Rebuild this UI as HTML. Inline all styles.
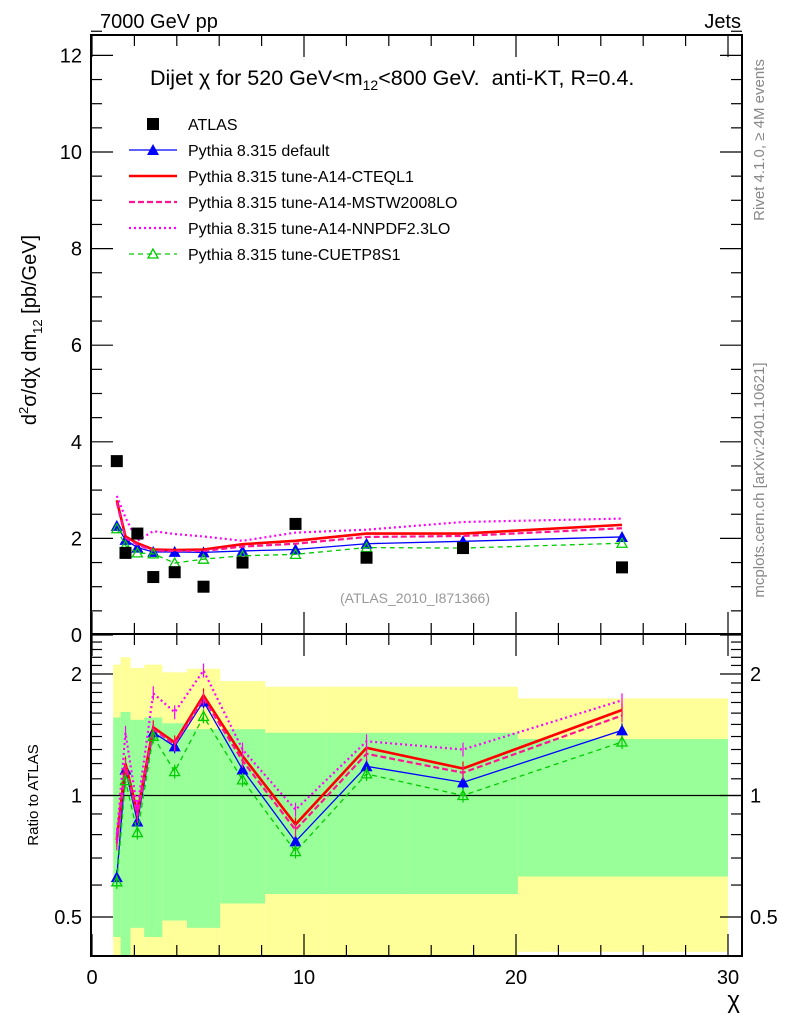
<!DOCTYPE html>
<html><head><meta charset="utf-8"><style>
body{margin:0;background:#fff}
svg{display:block;font-family:"Liberation Sans",sans-serif}
</style></head><body>
<svg id="c" width="786" height="1024" viewBox="0 0 786 1024">
<g id="bands"></g>
<g id="grid"></g>
<g id="series"></g>
<text x="100" y="28" font-size="20">7000 GeV pp</text>
<text x="741" y="28" font-size="20" text-anchor="end">Jets</text>
<text x="150" y="85" font-size="21.5" style="white-space:pre" xml:space="preserve">Dijet χ for 520 GeV&lt;m<tspan font-size="14" dy="5">12</tspan><tspan dy="-5">&lt;800 GeV.  anti-KT, R=0.4.</tspan></text>
<text x="415" y="603" font-size="14" fill="#999" text-anchor="middle">(ATLAS_2010_I871366)</text>
<text transform="translate(764,140) rotate(-90)" font-size="15" fill="#888" text-anchor="middle">Rivet 4.1.0, ≥ 4M events</text>
<text transform="translate(764,480) rotate(-90)" font-size="15" fill="#888" text-anchor="middle">mcplots.cern.ch [arXiv:2401.10621]</text>
<text transform="translate(36,330) rotate(-90)" font-size="20" text-anchor="middle">d<tspan font-size="13" dy="-8">2</tspan><tspan dy="8">σ/dχ dm</tspan><tspan font-size="13" dy="6">12</tspan><tspan dy="-6"> [pb/GeV]</tspan></text>
<text transform="translate(38,795) rotate(-90)" font-size="15" text-anchor="middle">Ratio to ATLAS</text>
<text x="740" y="1008" font-size="24" text-anchor="end">χ</text>
<g id="legend"></g>
</svg>
<script>
const edges=[1,1.35,1.82,2.46,3.32,4.48,6.05,8.17,11.02,14.88,20.09,30];
const chi=[1.17,1.58,2.14,2.89,3.9,5.26,7.1,9.6,12.95,17.5,25];
const atlas=[3.6,1.7,2.1,1.2,1.3,1.0,1.5,2.3,1.6,1.8,1.4];
const pyDefault=[2.26,1.97,1.81,1.72,1.72,1.71,1.74,1.77,1.89,1.94,2.03];
const pyCTEQ=[2.79,2.04,1.90,1.77,1.76,1.77,1.88,1.95,2.10,2.10,2.28];
const pyMSTW=[2.74,2.01,1.87,1.75,1.74,1.74,1.83,1.89,2.03,2.05,2.21];
const pyNNPDF=[2.88,2.43,1.95,2.15,2.09,2.04,1.95,2.12,2.18,2.34,2.41];
const pyCUETP=[2.20,1.85,1.70,1.68,1.49,1.57,1.64,1.67,1.81,1.80,1.90];
const greenHi=[1.56,1.61,1.54,1.56,1.51,1.46,1.46,1.43,1.43,1.43,1.38];
const greenLo=[0.446,0.3,0.47,0.446,0.49,0.47,0.54,0.57,0.57,0.57,0.63];
const yellowHi=[2.11,2.2,2.07,2.11,2.02,2.06,1.92,1.86,1.86,1.86,1.74];
const yellowLo=[0.3,0.3,0.3,0.3,0.3,0.3,0.3,0.3,0.3,0.3,0.41];
const mainTicks=[0,2,4,6,8,10,12];
const xTicks=[0,10,20,30];
const ratioTicks=[0.5,1,2];

const NS='http://www.w3.org/2000/svg';
const X=v=>92+v*21.2;
const Y=v=>635-v*48.3;
const R=v=>795.5-Math.log2(v)*121.5;
const L=91,Rt=742,T=35,MB=634,RB=956;
function mk(p,tag,a){const e=document.createElementNS(NS,tag);for(const k in a)e.setAttribute(k,a[k]);p.appendChild(e);return e;}
const bands=document.getElementById('bands'),grid=document.getElementById('grid'),ser=document.getElementById('series'),leg=document.getElementById('legend');
const cl=v=>Math.min(RB,Math.max(633,v));
for(let i=0;i<chi.length;i++){
  const x0=X(edges[i]),x1=X(edges[i+1]);
  let e=mk(bands,'rect',{x:x0,y:cl(R(yellowHi[i])),width:x1-x0,height:cl(R(yellowLo[i]))-cl(R(yellowHi[i])),fill:'#ffff99'});
  
  
  e=mk(bands,'rect',{x:x0,y:cl(R(greenHi[i])),width:x1-x0,height:cl(R(greenLo[i]))-cl(R(greenHi[i])),fill:'#99ff99'});
  
  
}
mk(grid,'rect',{x:L,y:T,width:Rt-L,height:MB-T,fill:'none',stroke:'#000','stroke-width':2});
mk(grid,'rect',{x:L,y:MB,width:Rt-L,height:RB-MB,fill:'none',stroke:'#000','stroke-width':2});
mk(grid,'line',{x1:L,x2:Rt,y1:R(1),y2:R(1),stroke:'#000','stroke-width':1.2});
for(let v=0;v<=12.5;v+=0.5){const maj=v%2===0,len=maj?22:11;
  mk(grid,'line',{x1:L,x2:L+len,y1:Y(v),y2:Y(v),stroke:'#000','stroke-width':1.2});
  mk(grid,'line',{x1:Rt,x2:Rt-len,y1:Y(v),y2:Y(v),stroke:'#000','stroke-width':1.2});}
mainTicks.forEach(v=>{const t=mk(grid,'text',{x:82,y:Y(v)+7,'font-size':20,'text-anchor':'end'});t.textContent=v;
  
  });
for(let v=0.4;v<=2.5;v+=0.1){const vv=Math.round(v*10)/10;const maj=[0.5,1,2].includes(vv);const len=maj?22:11;
  mk(grid,'line',{x1:L,x2:L+len,y1:R(vv),y2:R(vv),stroke:'#000','stroke-width':1.2});
  mk(grid,'line',{x1:Rt,x2:Rt-len,y1:R(vv),y2:R(vv),stroke:'#000','stroke-width':1.2});}
ratioTicks.forEach(v=>{let t=mk(grid,'text',{x:82,y:R(v)+7,'font-size':20,'text-anchor':'end'});t.textContent=v;
  
  
  t=mk(grid,'text',{x:750,y:R(v)+7,'font-size':20});t.textContent=v;
  
  });
for(let v=0;v<=30;v+=2){const maj=v%10===0,len=maj?22:11;
  [[MB,1],[T,-1],[RB,1],[MB,-1]].forEach(([b,s])=>mk(grid,'line',{x1:X(v),x2:X(v),y1:b,y2:b-s*len,stroke:'#000','stroke-width':1.2}));}
xTicks.forEach(v=>{const t=mk(grid,'text',{x:X(v),y:984,'font-size':20,'text-anchor':'middle'});t.textContent=v;
  
  });

const series=[
 {vals:pyDefault,c:'#0000ff',w:1.3,d:'',m:'tri',name:'Pythia 8.315 default'},
 {vals:pyCTEQ,c:'#ff0000',w:2.6,d:'',m:'',name:'Pythia 8.315 tune-A14-CTEQL1'},
 {vals:pyMSTW,c:'#ff1493',w:2.2,d:'6,3',m:'',name:'Pythia 8.315 tune-A14-MSTW2008LO'},
 {vals:pyNNPDF,c:'#ff00ff',w:2.2,d:'2,3',m:'',name:'Pythia 8.315 tune-A14-NNPDF2.3LO'},
 {vals:pyCUETP,c:'#00cc00',w:1.3,d:'5,4',m:'otri',name:'Pythia 8.315 tune-CUETP8S1'}];
function marker(g,m,c,x,y){
  if(m==='tri')mk(g,'polygon',{points:`${x},${y-6} ${x-6},${y+5} ${x+6},${y+5}`,fill:c});
  if(m==='otri')mk(g,'polygon',{points:`${x},${y-5} ${x-5},${y+4} ${x+5},${y+4}`,fill:'none',stroke:c,'stroke-width':1.3});
}
series.forEach(s=>{
  const g=mk(ser,'g',{});
  
  
  const pm=chi.map((c,i)=>X(c)+','+Y(s.vals[i])).join(' ');
  const pr=chi.map((c,i)=>X(c)+','+R(s.vals[i]/atlas[i])).join(' ');
  [pm,pr].forEach(p=>mk(g,'polyline',{points:p,fill:'none',stroke:s.c,'stroke-width':s.w,'stroke-dasharray':s.d}));
  chi.forEach((c,i)=>{marker(g,s.m,s.c,X(c),Y(s.vals[i]));marker(g,s.m,s.c,X(c),R(s.vals[i]/atlas[i]));
    mk(g,'line',{x1:X(c),x2:X(c),y1:R(s.vals[i]/atlas[i])-7,y2:R(s.vals[i]/atlas[i])+7,stroke:s.c,'stroke-width':1.2});});
});
const dg=mk(ser,'g',{});


chi.forEach((c,i)=>{const r=mk(dg,'rect',{x:X(c)-6,y:Y(atlas[i])-6,width:12,height:12,fill:'#000'});
  
  });
const ly=[124,150,176,202,228,254];
mk(leg,'rect',{x:147,y:ly[0]-6,width:12,height:12,fill:'#000'});
let t=mk(leg,'text',{x:188,y:ly[0]+6,'font-size':16});t.textContent='ATLAS';
series.forEach((s,i)=>{const y=ly[i+1];
  mk(leg,'line',{x1:129,x2:177,y1:y,y2:y,stroke:s.c,'stroke-width':s.w,'stroke-dasharray':s.d});
  marker(leg,s.m,s.c,153,y);
  const tt=mk(leg,'text',{x:188,y:y+6,'font-size':16});tt.textContent=s.name;
  
  });
</script>
</body></html>
